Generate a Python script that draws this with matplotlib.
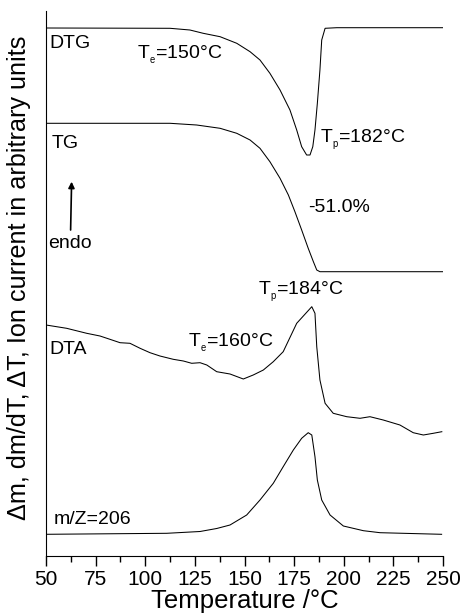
import matplotlib
matplotlib.use("Agg")
import matplotlib.pyplot as plt
from matplotlib.ticker import MultipleLocator

plt.rcParams['font.family'] = ['Liberation Sans', 'DejaVu Sans']
plt.rcParams['mathtext.default'] = 'regular'

# ==========================
# Curves (temperature in °C, signal in arbitrary units)
# ==========================
dtg_t = [50, 112.5, 122.5, 129.2, 137.7, 146.1, 152.8, 157.8, 162.8, 167.9,
         172.9, 176.3, 178.8, 181.3, 183.0, 184.4, 185.5, 186.7, 188.0, 188.9,
         190.6, 196.5, 250]
dtg_y = [528, 527.7, 526, 522.7, 519.3, 512.7, 504.3, 496, 482.7, 466,
         446, 426, 409.3, 401, 401, 409.3, 426, 452.7, 486, 516,
         527.7, 528.3, 528.3]

tg_t = [50, 112.5, 125.9, 137.7, 146.1, 152.8, 157.8, 162.8, 167.9, 172.1,
        175.4, 178.8, 182.1, 184.7, 186.4, 188.0, 250]
tg_y = [432.7, 432.7, 431, 427.7, 422.7, 416, 407.7, 394.3, 377.7, 361,
        344.3, 326, 307.7, 294.3, 286, 284.3, 284.3]

dta_t = [50.0, 60.4, 70.5, 77.2, 82.2, 87.3, 92.3, 97.4, 102.4, 107.4,
         114.1, 119.2, 123.4, 127.6, 131.0, 136.0, 142.7, 149.4, 154.4, 159.5,
         164.5, 169.5, 176.3, 183.9, 185.5, 186.4, 188.0, 190.6, 194.7, 201.5,
         208.2, 213.2, 219.9, 228.3, 235.0, 240.1, 245.1, 249.4]
dta_y = [231, 227.7, 222.7, 220, 216.7, 213.3, 212.7, 207.7, 203.3, 200,
         196.7, 195, 192.7, 193.3, 191, 184.3, 182, 177, 181, 186,
         194.3, 204.3, 232.7, 249.3, 242.7, 209.3, 176, 152.7, 142.7, 139.3,
         137.7, 139.3, 136, 131, 123.3, 121, 122.7, 124.3]

ms_t = [50, 110.8, 127.6, 136.0, 142.7, 151.1, 157.8, 164.5, 169.5, 174.6,
        178.8, 182.1, 183.9, 185.5, 186.7, 188.9, 193.1, 199.8, 209.9, 218.3,
        249.3]
ms_y = [21.7, 22.7, 24.5, 27.5, 31, 41, 56, 72.7, 89.3, 106,
        117.7, 123.3, 121, 99.3, 76, 56, 41, 30, 25.3, 23.3,
        21.7]

x_ticks = [50, 75, 100, 125, 150, 175, 200, 225, 250]

# ==========================
# Figure
# ==========================
fig = plt.figure(figsize=(4.61, 6.16), dpi=100)
ax = fig.add_axes([46 / 461, 60 / 616, 397 / 461, 545 / 616])

for t, y in [(dtg_t, dtg_y), (tg_t, tg_y), (dta_t, dta_y), (ms_t, ms_y)]:
    ax.plot(t, y, color='black', lw=0.75)

ax.set_xlim(50, 250)
ax.set_ylim(0, 545)
ax.set_xticks(x_ticks)
ax.xaxis.set_minor_locator(MultipleLocator(12.5))
ax.set_yticks([])
ax.tick_params(axis='x', which='major', direction='out', length=7, width=1,
               labelsize=15, pad=3)
ax.tick_params(axis='x', which='minor', direction='out', length=4, width=1)
for s in ['top', 'right']:
    ax.spines[s].set_visible(False)

ax.set_xlabel("Temperature /°C", fontsize=18.5, labelpad=0)
fig.text(19 / 461, 1 - 278 / 616, "Δm, dm/dT, ΔT, Ion current in arbitrary units",
         rotation=90, fontsize=18.2, ha='center', va='center')

# labels
fs = 14
ax.text(51.5, 513, "DTG", fontsize=fs, va='center')
ax.text(95.8, 501, "T$_{_e}$=150°C", fontsize=fs, va='center')
ax.text(188.0, 416, "T$_{_p}$=182°C", fontsize=fs, va='center')
ax.text(53, 413, "TG", fontsize=fs, va='center')
ax.text(51, 313, "endo", fontsize=fs, va='center')
ax.text(182, 349, "-51.0%", fontsize=fs, va='center')
ax.text(156.8, 264, "T$_{_p}$=184°C", fontsize=fs, va='center')
ax.text(121.5, 213, "T$_{_e}$=160°C", fontsize=fs, va='center')
ax.text(51.5, 206, "DTA", fontsize=fs, va='center')
ax.text(54, 37, "m/Z=206", fontsize=fs, va='center')

ax.annotate("", xy=(62.9, 374.3), xytext=(62.4, 326),
            arrowprops=dict(arrowstyle="-|>", color='black', lw=1.2,
                            mutation_scale=9, shrinkA=0, shrinkB=0))

fig.savefig("out.png", dpi=100)
